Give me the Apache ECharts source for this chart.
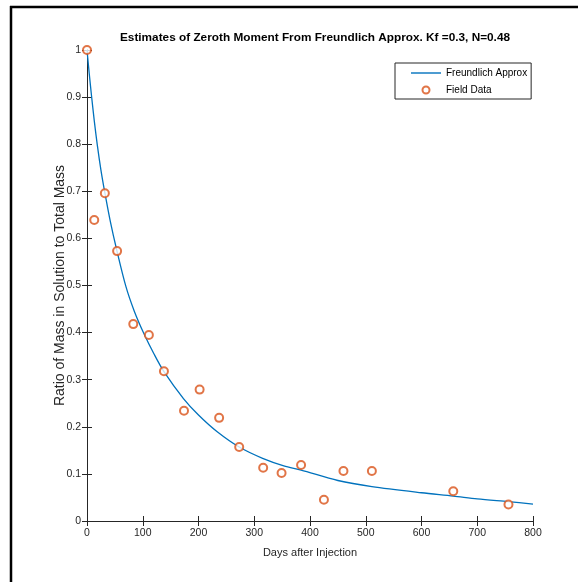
<!DOCTYPE html>
<html>
<head>
<meta charset="utf-8">
<script src="https://cdn.jsdelivr.net/npm/echarts@6/dist/echarts.min.js"></script>
<style>
  html, body { margin: 0; padding: 0; background: #fff; }
  #main { width: 578px; height: 582px; }
</style>
</head>
<body>
<div id="main"></div>
<script>
// field data (days, ratio)
var fieldDays  = [0, 13, 32, 54, 83, 111, 138, 174, 202, 237, 273, 316, 349, 384, 425, 460, 511, 657, 756];
var fieldRatio = [1.0, 0.639, 0.696, 0.573, 0.418, 0.395, 0.318, 0.234, 0.279, 0.219, 0.157, 0.113, 0.102, 0.119, 0.045, 0.106, 0.106, 0.063, 0.035];

// Freundlich approx curve
var curveDays  = [0, 4, 8, 13, 18.5, 25, 32, 42, 53, 70, 85, 102, 120, 138, 173, 200, 233, 273, 315, 353, 384, 450, 511, 600, 657, 700, 756, 800];
var curveRatio = [1.0, 0.95, 0.904, 0.85, 0.798, 0.745, 0.697, 0.635, 0.577, 0.497, 0.445, 0.398, 0.355, 0.317, 0.26, 0.225, 0.19, 0.157, 0.133, 0.117, 0.108, 0.086, 0.073, 0.060, 0.053, 0.047, 0.041, 0.036];

var curve = curveDays.map(function (d, i) { return [d, curveRatio[i]]; });
var field = fieldDays.map(function (d, i) { return [d, fieldRatio[i]]; });

var axisCol = '#262626';
var font = 'Liberation Sans, Arial, sans-serif';

var myChart = echarts.init(document.getElementById('main'));
myChart.setOption({
  animation: false,
  backgroundColor: '#fff',
  title: {
    text: 'Estimates of Zeroth Moment From Freundlich Approx. Kf =0.3, N=0.48',
    left: 310,
    textAlign: 'center',
    top: 27,
    textStyle: { fontFamily: font, fontSize: 11.8, fontWeight: 'bold', color: '#000' }
  },
  legend: {
    orient: 'vertical',
    left: 395,
    top: 63,
    itemWidth: 30,
    itemHeight: 7,
    itemGap: 7,
    padding: [5, 4, 4, 16],
    borderColor: '#262626',
    borderWidth: 1,
    textStyle: { fontFamily: font, fontSize: 10, color: '#000' },
    data: [
      { name: 'Freundlich Approx', icon: 'path://M0,4L30,4L30,5.4L0,5.4Z', itemStyle: { color: '#0072BD' } },
      { name: 'Field Data', icon: 'emptyCircle', itemStyle: { color: '#D95319', borderWidth: 1.1 } }
    ]
  },
  grid: { left: 87, right: 45, top: 50, bottom: 61, containLabel: false },
  xAxis: [{
    type: 'value', min: 0, max: 800, interval: 100,
    name: 'Days after Injection', nameLocation: 'middle', nameGap: 26,
    nameTextStyle: { fontFamily: font, fontSize: 11, color: '#262626' },
    axisLine: { show: true, lineStyle: { color: axisCol } },
    axisTick: { show: true, inside: true, length: 5, lineStyle: { color: axisCol } },
    axisLabel: { fontFamily: font, fontSize: 10.5, color: '#262626', margin: 7 },
    splitLine: { show: false }
  }, {
    type: 'value', min: 0, max: 800, interval: 100, position: 'top',
    axisLine: { show: true, lineStyle: { color: axisCol } },
    axisTick: { show: true, inside: true, length: 5, lineStyle: { color: axisCol } },
    axisLabel: { show: false }, splitLine: { show: false }
  }],
  yAxis: [{
    type: 'value', min: 0, max: 1, interval: 0.1,
    name: 'Ratio of Mass in Solution to Total Mass', nameLocation: 'middle', nameGap: 20,
    nameMoveOverlap: false,
    nameTextStyle: { fontFamily: font, fontSize: 14, color: '#262626' },
    axisLine: { show: true, lineStyle: { color: axisCol } },
    axisTick: { show: true, inside: true, length: 5, lineStyle: { color: axisCol } },
    axisLabel: { fontFamily: font, fontSize: 10.5, color: '#262626', margin: 6 },
    splitLine: { show: false }
  }, {
    type: 'value', min: 0, max: 1, interval: 0.1, position: 'right',
    axisLine: { show: true, lineStyle: { color: axisCol } },
    axisTick: { show: true, inside: true, length: 5, lineStyle: { color: axisCol } },
    axisLabel: { show: false }, splitLine: { show: false }
  }],
  graphic: [
    { type: 'line', shape: { x1: 10, y1: 7, x2: 578, y2: 7 }, style: { stroke: '#000', lineWidth: 2.5 } },
    { type: 'line', shape: { x1: 11, y1: 6, x2: 11, y2: 582 }, style: { stroke: '#000', lineWidth: 2.5 } }
  ],
  series: [{
    name: 'Freundlich Approx',
    type: 'line',
    data: curve,
    smooth: 0.3,
    showSymbol: false,
    lineStyle: { color: '#0072BD', width: 1.3 },
    itemStyle: { color: '#0072BD' },
    z: 2
  }, {
    name: 'Field Data',
    type: 'scatter',
    data: field,
    symbol: 'emptyCircle',
    symbolSize: 8,
    itemStyle: { color: '#D95319', borderWidth: 1.1 },
    z: 3
  }]
});
</script>
</body>
</html>
